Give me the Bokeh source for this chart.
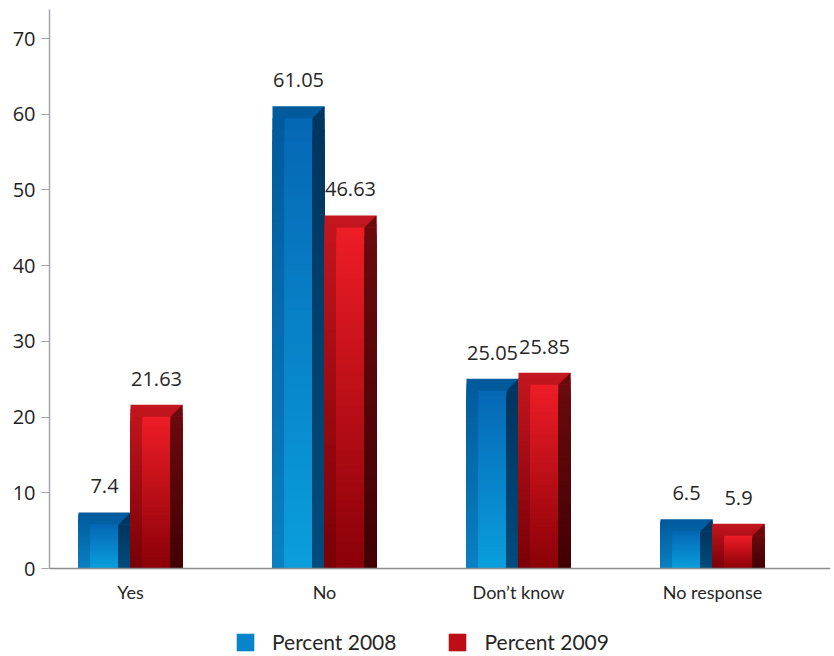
import numpy as np
from bokeh.plotting import figure
from bokeh.models import ColumnDataSource, FixedTicker, Legend, LegendItem, Range1d
from bokeh.core.properties import value
from bokeh.embed import file_html
from bokeh.resources import INLINE

# ---- data ----
categories = ["Yes", "No", "Don\u2019t know", "No response"]
series_names = ["Percent 2008", "Percent 2009"]
percent_2008 = [7.4, 61.05, 25.05, 6.5]
percent_2009 = [21.63, 46.63, 25.85, 5.9]
y_ticks = [0, 10, 20, 30, 40, 50, 60, 70]

# ---- layout (pixels) ----
W, H = 834, 656
BL, BR, BT, BB = 49, 4, 9, 0
frame_w = W - BL - BR
frame_h = H - BT - BB
ZERO_PX_FROM_BOTTOM = 88          # x axis sits this many px above the figure bottom
PX_PER_CAT = 194
ux = 1.0 / PX_PER_CAT
x_start = -81 * ux
x_end = x_start + frame_w * ux
y_top = 73.84
uy = y_top / (frame_h - ZERO_PX_FROM_BOTTOM)
y_start = -ZERO_PX_FROM_BOTTOM * uy

BAR_PX = 52
BAND_PX = 12
N = 40

styles = {
    "Percent 2008": dict(frame=("#005a9c", "#0a80c2"), inner=("#0567b4", "#0a9fdd"),
                         side=("#00365f", "#004c7c")),
    "Percent 2009": dict(frame=("#c4161e", "#780006"), inner=("#ee1d26", "#8a0008"),
                         side=("#6a0a0e", "#420003")),
}


def hex_to_rgb(h):
    h = h.lstrip("#")
    return np.array([int(h[i:i + 2], 16) for i in (0, 2, 4)], dtype=float)


def mix(c_top, c_bot, t):
    a, b = hex_to_rgb(c_top), hex_to_rgb(c_bot)
    c = a + (b - a) * t
    return "#%02x%02x%02x" % tuple(int(round(v)) for v in c)


p = figure(width=W, height=H, output_backend="svg", toolbar_location=None,
           x_range=Range1d(x_start, x_end), y_range=Range1d(y_start, y_top),
           min_border_left=BL, min_border_right=BR, min_border_top=BT, min_border_bottom=BB)
p.outline_line_color = None
p.xgrid.visible = False
p.ygrid.visible = False
p.background_fill_color = "white"

legend_items = []
label_x, label_y, label_t = [], [], []

for s_idx, (name, vals) in enumerate(zip(series_names, [percent_2008, percent_2009])):
    st = styles[name]
    fr = dict(left=[], right=[], top=[], bottom=[], color=[])
    inn = dict(left=[], right=[], top=[], bottom=[], color=[])
    sd = dict(left=[], right=[], top=[], bottom=[], color=[])
    tri_xs, tri_ys, tri_c = [], [], []
    for i, v in enumerate(vals):
        left = i - BAR_PX * ux if s_idx == 0 else i
        right = left + BAR_PX * ux
        in_l = left + BAND_PX * ux
        in_r = right - BAND_PX * ux
        inner_top = v - BAND_PX * uy
        for k in range(N, 0, -1):
            t = 1 - (k - 0.5) / N
            fr["left"].append(left); fr["right"].append(right)
            fr["bottom"].append(0); fr["top"].append(v * k / N)
            fr["color"].append(mix(*st["frame"], t))
            inn["left"].append(in_l); inn["right"].append(in_r)
            inn["bottom"].append(0); inn["top"].append(inner_top * k / N)
            inn["color"].append(mix(*st["inner"], t))
            sd["left"].append(in_r); sd["right"].append(right)
            sd["bottom"].append(0); sd["top"].append(inner_top * k / N)
            sd["color"].append(mix(*st["side"], t))
        tri_xs.append([in_r, right, right])
        tri_ys.append([inner_top, v, inner_top])
        tri_c.append(st["side"][0])
        label_x.append((left + right) / 2)
        label_y.append(v)
        label_t.append(str(v))
    rends = []
    for d in (fr, inn, sd):
        rends.append(p.quad(left="left", right="right", top="top", bottom="bottom",
                            source=ColumnDataSource(d), fill_color="color", line_color=None))
    p.patches(xs=tri_xs, ys=tri_ys, fill_color=tri_c, line_color=None)
    legend_items.append(LegendItem(label=name, renderers=[rends[1]], index=N // 2))

p.text(x=label_x, y=label_y, text=label_t, text_font=value("Open Sans"), text_font_size="20px",
       text_color="#262626", text_align="center", text_baseline="middle", y_offset=-26)

# axes
p.yaxis.ticker = FixedTicker(ticks=y_ticks)
p.yaxis.bounds = (0, y_top)
p.yaxis.axis_line_color = "#a3a3ab"
p.yaxis.axis_line_width = 1.5
p.yaxis.major_tick_line_color = "#a3a3ab"
p.yaxis.major_tick_out = 8
p.yaxis.major_tick_in = 0
p.yaxis.minor_tick_line_color = None
p.yaxis.major_label_text_font = "Open Sans"
p.yaxis.major_label_text_font_size = "20px"
p.yaxis.major_label_text_color = "#1f1f1f"
p.yaxis.major_label_standoff = 6

p.xaxis.fixed_location = 0
p.xaxis.ticker = FixedTicker(ticks=list(range(len(categories))))
p.xaxis.major_label_overrides = {i: c for i, c in enumerate(categories)}
p.xaxis.axis_line_color = "#8c8c8c"
p.xaxis.axis_line_width = 1.5
p.xaxis.major_tick_line_color = None
p.xaxis.minor_tick_line_color = None
p.xaxis.major_label_text_font = "Lato"
p.xaxis.major_label_text_font_size = "18px"
p.xaxis.major_label_text_color = "#262626"
p.xaxis.major_label_standoff = 6

legend = Legend(items=legend_items, orientation="horizontal", location=(185, 2),
                glyph_width=22, glyph_height=22, label_standoff=16, spacing=50, label_height=22,
                label_text_font="Lato", label_text_font_size="21px", label_text_color="#262626",
                border_line_color=None, background_fill_alpha=0, margin=0, padding=0)
p.add_layout(legend, "center")

open("out.html", "w").write(file_html(p, INLINE))
